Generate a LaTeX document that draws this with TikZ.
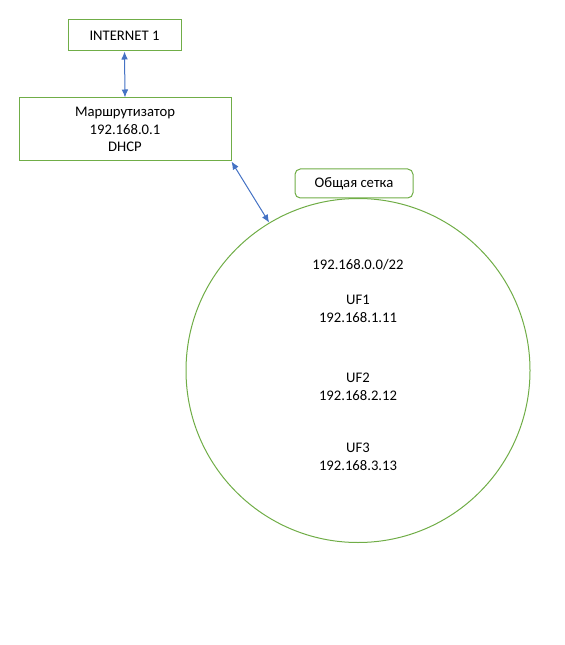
\documentclass[tikz,border=0pt]{standalone}
\usepackage{fontspec}
\setmainfont{Carlito}
\usetikzlibrary{arrows.meta}
\definecolor{boxgreen}{HTML}{70AD47}
\definecolor{arrowblue}{HTML}{4472C4}
\begin{document}
\begin{tikzpicture}[x=0.75pt,y=-0.75pt,
  every node/.style={font=\fontsize{11}{13.3}\selectfont, align=center},
  box/.style={draw=boxgreen, line width=0.75pt, inner sep=0pt},
  link/.style={draw=arrowblue, line width=0.75pt, {Latex[length=6pt,width=5pt]}-{Latex[length=6pt,width=5pt]}}]
\useasboundingbox (0,0) rectangle (564,645);
\node[box, minimum width=113*0.75pt, minimum height=31*0.75pt] (inet) at (124.5,35.5) {INTERNET 1};
\node[box, minimum width=212*0.75pt, minimum height=63*0.75pt] (router) at (125,129.5) {Маршрутизатор\\192.168.0.1\\DHCP};
\node[box, rounded corners=4pt, minimum width=118*0.75pt, minimum height=29*0.75pt] (label) at (354,183.5) {Общая сетка};
\node[circle, draw=boxgreen, line width=0.75pt, inner sep=0pt, minimum size=344*0.75pt] (net) at (358,370.5) {};
\node (subnet) at (358,265) {192.168.0.0/22};
\node (uf1) at (358,308.5) {UF1\\192.168.1.11};
\node (uf2) at (358,386.5) {UF2\\192.168.2.12};
\node (uf3) at (358,457) {UF3\\192.168.3.13};
\draw[link] (inet.south) -- (router.north);
\draw[link] (router.south east) -- (net.121);
\end{tikzpicture}
\end{document}
